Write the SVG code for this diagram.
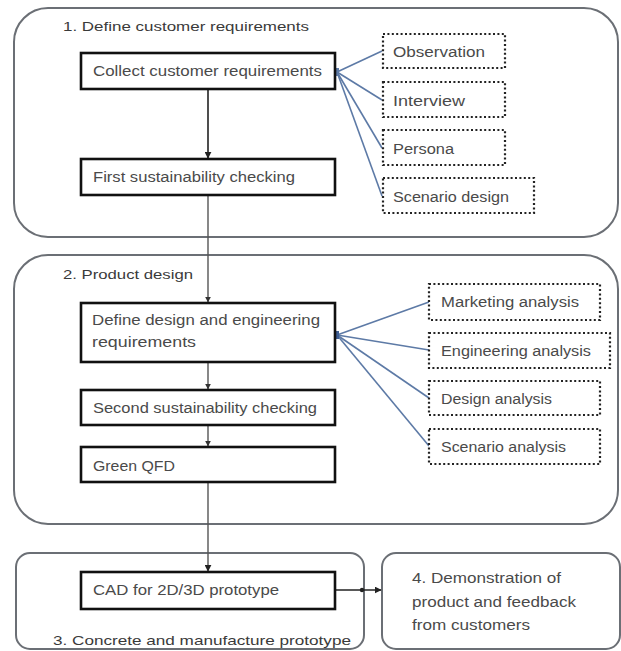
<svg xmlns="http://www.w3.org/2000/svg" width="621" height="651" viewBox="0 0 621 651">
  <defs>
    <style>
      .stage { fill: #fff; stroke: #6b6f75; stroke-width: 2; }
      .step { fill: #fff; stroke: #111; stroke-width: 2.6; }
      .method { fill: #fff; stroke: #222; stroke-width: 2.2; stroke-dasharray: 2 2.4; }
      .t { font-family: "Liberation Sans", Arial, sans-serif; font-size: 14px; fill: #4a4a4a; }
      .h { font-family: "Liberation Sans", Arial, sans-serif; font-size: 13px; fill: #3a3a3a; }
      .flow { stroke: #222; stroke-width: 1.6; fill: none; }
      .flowg { stroke: #555; stroke-width: 1.4; fill: none; }
      .link { stroke: #5d7aa6; stroke-width: 1.6; fill: none; }
    </style>
    <marker id="arr" viewBox="0 0 10 10" refX="9" refY="5" markerWidth="7" markerHeight="7" orient="auto" markerUnits="userSpaceOnUse">
      <path d="M0,0 L10,5 L0,10 z" fill="#222"/>
    </marker>
    <marker id="arr-s" viewBox="0 0 10 10" refX="9" refY="5" markerWidth="6" markerHeight="6" orient="auto" markerUnits="userSpaceOnUse">
      <path d="M0,0 L10,5 L0,10 z" fill="#333"/>
    </marker>
  </defs>

  <!-- stage containers -->
  <g id="stage1">
    <rect class="stage" x="14" y="8" width="604" height="229" rx="34"/>
    <text class="h" x="63" y="31" textLength="246" lengthAdjust="spacingAndGlyphs">1. Define customer requirements</text>
  </g>
  <g id="stage2">
    <rect class="stage" x="14" y="255" width="604" height="269" rx="34"/>
    <text class="h" x="63" y="279" textLength="130" lengthAdjust="spacingAndGlyphs">2. Product design</text>
  </g>
  <g id="stage3">
    <rect class="stage" x="16" y="553" width="348" height="96" rx="14"/>
    <text class="h" x="53" y="645" textLength="298" lengthAdjust="spacingAndGlyphs">3. Concrete and manufacture prototype</text>
  </g>
  <g id="stage4">
    <rect class="stage" x="382" y="553" width="238" height="96" rx="14"/>
    <text class="t" x="412" y="583" textLength="149" lengthAdjust="spacingAndGlyphs">4. Demonstration of</text>
    <text class="t" x="412" y="607" textLength="164" lengthAdjust="spacingAndGlyphs">product and feedback</text>
    <text class="t" x="412" y="630" textLength="118" lengthAdjust="spacingAndGlyphs">from customers</text>
  </g>

  <!-- connectors -->
  <g id="connectors">
    <line class="flow" x1="208" y1="89" x2="208" y2="158" marker-end="url(#arr)"/>
    <line class="flowg" x1="208" y1="195" x2="208" y2="302" marker-end="url(#arr-s)"/>
    <line class="flowg" x1="208" y1="362" x2="208" y2="389" marker-end="url(#arr-s)"/>
    <line class="flowg" x1="208" y1="425" x2="208" y2="446" marker-end="url(#arr-s)"/>
    <line class="flowg" x1="208" y1="482" x2="208" y2="571" marker-end="url(#arr)"/>
    <line class="flow" x1="335" y1="590" x2="381" y2="590" marker-end="url(#arr)"/>
    <circle cx="362" cy="590" r="2.2" fill="#222"/>

    <line class="link" x1="337" y1="72" x2="382" y2="51"/>
    <line class="link" x1="337" y1="72" x2="382" y2="100"/>
    <line class="link" x1="337" y1="72" x2="382" y2="148"/>
    <line class="link" x1="337" y1="72" x2="382" y2="196"/>
    <rect x="334" y="68" width="5" height="8" fill="#5d7aa6"/>

    <line class="link" x1="337" y1="335" x2="429" y2="302"/>
    <line class="link" x1="337" y1="335" x2="429" y2="350"/>
    <line class="link" x1="337" y1="335" x2="429" y2="398"/>
    <line class="link" x1="337" y1="335" x2="429" y2="446"/>
    <rect x="334" y="331" width="5" height="8" fill="#3f5f95"/>
  </g>

  <!-- process steps -->
  <g id="collect">
    <rect class="step" x="81" y="53" width="254" height="36"/>
    <text class="t" x="93" y="76" textLength="229" lengthAdjust="spacingAndGlyphs">Collect customer requirements</text>
  </g>
  <g id="check1">
    <rect class="step" x="81" y="159" width="254" height="36"/>
    <text class="t" x="93" y="182" textLength="202" lengthAdjust="spacingAndGlyphs">First sustainability checking</text>
  </g>
  <g id="define">
    <rect class="step" x="81" y="303" width="254" height="59"/>
    <text class="t" x="92" y="325" textLength="228" lengthAdjust="spacingAndGlyphs">Define design and engineering</text>
    <text class="t" x="92" y="347" textLength="104" lengthAdjust="spacingAndGlyphs">requirements</text>
  </g>
  <g id="check2">
    <rect class="step" x="81" y="390" width="254" height="35"/>
    <text class="t" x="93" y="413" textLength="224" lengthAdjust="spacingAndGlyphs">Second sustainability checking</text>
  </g>
  <g id="qfd">
    <rect class="step" x="81" y="447" width="254" height="35"/>
    <text class="t" x="93" y="471" textLength="82" lengthAdjust="spacingAndGlyphs">Green QFD</text>
  </g>
  <g id="cad">
    <rect class="step" x="81" y="572" width="254" height="37"/>
    <text class="t" x="93" y="595" textLength="186" lengthAdjust="spacingAndGlyphs">CAD for 2D/3D prototype</text>
  </g>

  <!-- supporting methods -->
  <g id="observation">
    <rect class="method" x="383" y="34" width="122" height="34"/>
    <text class="t" x="393" y="57" textLength="92" lengthAdjust="spacingAndGlyphs">Observation</text>
  </g>
  <g id="interview">
    <rect class="method" x="383" y="82" width="122" height="35"/>
    <text class="t" x="393" y="106" textLength="72" lengthAdjust="spacingAndGlyphs">Interview</text>
  </g>
  <g id="persona">
    <rect class="method" x="383" y="130" width="122" height="35"/>
    <text class="t" x="393" y="154" textLength="61" lengthAdjust="spacingAndGlyphs">Persona</text>
  </g>
  <g id="scenario-design">
    <rect class="method" x="383" y="178" width="151" height="35"/>
    <text class="t" x="393" y="202" textLength="116" lengthAdjust="spacingAndGlyphs">Scenario design</text>
  </g>
  <g id="marketing">
    <rect class="method" x="429" y="284" width="171" height="36"/>
    <text class="t" x="441" y="307" textLength="138" lengthAdjust="spacingAndGlyphs">Marketing analysis</text>
  </g>
  <g id="engineering">
    <rect class="method" x="429" y="333" width="181" height="35"/>
    <text class="t" x="441" y="356" textLength="150" lengthAdjust="spacingAndGlyphs">Engineering analysis</text>
  </g>
  <g id="design">
    <rect class="method" x="429" y="381" width="171" height="34"/>
    <text class="t" x="441" y="404" textLength="111" lengthAdjust="spacingAndGlyphs">Design analysis</text>
  </g>
  <g id="scenario-analysis">
    <rect class="method" x="429" y="429" width="171" height="35"/>
    <text class="t" x="441" y="452" textLength="125" lengthAdjust="spacingAndGlyphs">Scenario analysis</text>
  </g>
</svg>
